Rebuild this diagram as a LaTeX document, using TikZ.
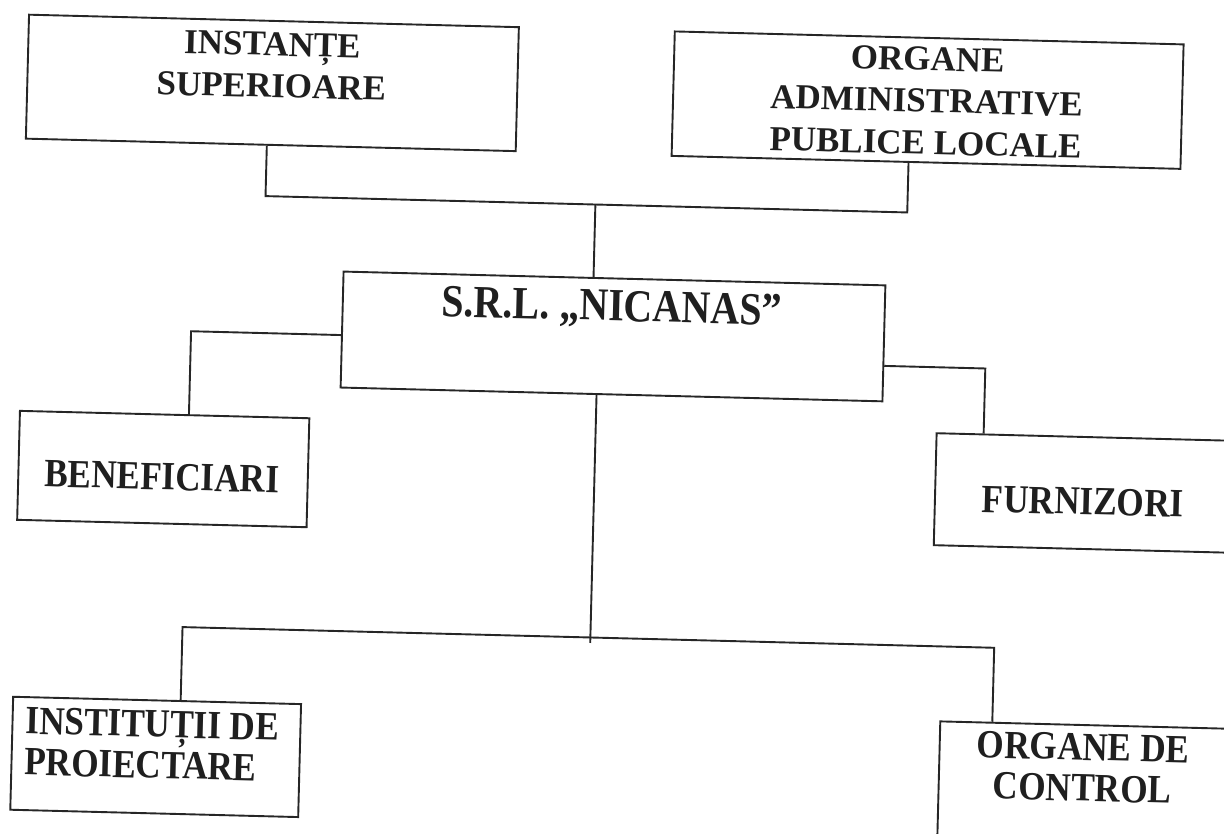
\documentclass[tikz,border=0pt]{standalone}
\usepackage{fontspec}
\newfontfamily\fontA{Liberation Serif}
\newfontfamily\fontB[FakeStretch=0.88]{Liberation Serif}
\newfontfamily\fontC[FakeStretch=0.87]{Liberation Serif}
\tikzset{
  box/.style={draw=black!85, line width=1.9pt, rectangle, inner sep=0pt, anchor=north west, fill=none},
  link/.style={draw=black!85, line width=1.9pt},
  txta/.style={inner sep=0pt, text=black!88, align=center, font=\fontA\bfseries\fontsize{35}{42}\selectfont},
  txtb/.style={inner sep=0pt, text=black!88, align=center, font=\fontB\bfseries\fontsize{40}{41}\selectfont},
  txtc/.style={inner sep=0pt, text=black!88, align=center, font=\fontC\bfseries\fontsize{46}{50}\selectfont},
}
\begin{document}
\begin{tikzpicture}[x=1pt,y=-1pt]
\useasboundingbox (0,0) rectangle (1224,834);
\clip (0,0) rectangle (1224,834);
\fill[white] (0,0) rectangle (1224,834);
\begin{scope}[rotate around={-1.46:(612,417)}, transform shape]
  % boxes
  \node[box, minimum width=490pt, minimum height=124pt] (b1) at (18,28.7) {};
  \node[box, minimum width=509pt, minimum height=124.5pt] (b2) at (664,29) {};
  \node[box, minimum width=542pt, minimum height=116pt] (b3) at (339,277.5) {};
  \node[box, minimum width=289.5pt, minimum height=109pt] (b4) at (19,425) {};
  \node[box, minimum width=304pt, minimum height=112pt] (b5) at (936,424) {};
  \node[box, minimum width=288pt, minimum height=113pt] (b6) at (19.5,711) {};
  \node[box, minimum width=298pt, minimum height=120pt] (b7) at (947,712) {};
  % texts
  \node[txta, anchor=north] (l1) at (263,41) {INSTANȚE\\SUPERIOARE};
  \node[txta, anchor=north] (l2) at (918.5,39) {ORGANE\\ADMINISTRATIVE\\PUBLICE LOCALE};
  \node[txtc, anchor=north] (l3) at (609,290) {S.R.L. „NICANAS”};
  \node[txtb, anchor=north] (l4) at (163.7,474.5) {BENEFICIARI};
  \node[txtb, anchor=north] (l5) at (1085,476) {FURNIZORI};
  \node[txtb, anchor=north west, align=left] (l6) at (33.4,722) {INSTITUȚII DE\\PROIECTARE};
  \node[txtb, anchor=north] (l7) at (1091.6,721.3) {ORGANE DE\\CONTROL};
  % junction coordinates
  \coordinate (ta) at (260,205);
  \coordinate (tb) at (902,205);
  \coordinate (tc) at (590,205);
  \coordinate (la) at (189,342);
  \coordinate (ra) at (984,359);
  \coordinate (ma) at (596,643.5);
  \coordinate (ha) at (188,638);
  \coordinate (hb) at (1000,638);
  % connectors
  \draw[link] (b1.south -| ta) -- (ta) -- (tb) -- (b2.south -| tb);
  \draw[link] (tc) -- (b3.north -| tc);
  \draw[link] (b3.west |- la) -- (la) -- (b4.north -| la);
  \draw[link] (b3.east |- ra) -- (ra) -- (b5.north -| ra);
  \draw[link] (b3.south -| ma) -- (ma);
  \draw[link] (b6.north -| ha) -- (ha) -- (hb) -- (b7.north -| hb);
\end{scope}
\end{tikzpicture}
\end{document}
